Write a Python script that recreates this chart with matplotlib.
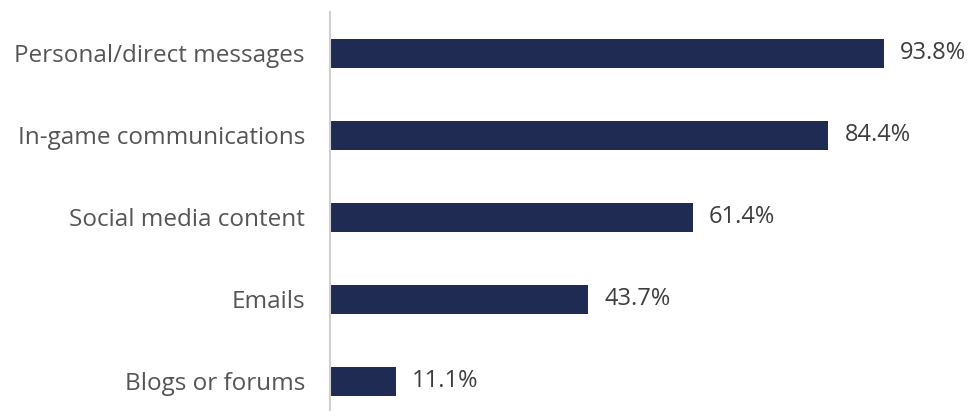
import matplotlib
matplotlib.use("Agg")
import matplotlib.pyplot as plt

# data
categories = ["Personal/direct messages", "In-game communications",
              "Social media content", "Emails", "Blogs or forums"]
values = [93.8, 84.4, 61.4, 43.7, 11.1]

plt.rcParams['font.family'] = ['Open Sans', 'DejaVu Sans']

fig = plt.figure(figsize=(9.73, 4.19), dpi=100)
ax = fig.add_axes([330 / 973, 9 / 419, 643 / 973, 398 / 419])

ypos = list(range(len(categories)))
bars = ax.barh(ypos, values, height=0.35, color="#1f2b52")

ax.set_xlim(0, 643 / 5.906)
ax.set_ylim(4.35, -0.506)

ax.set_yticks(ypos)
ax.set_yticklabels(categories, fontsize=17.5, color="#555555")
ax.tick_params(axis="y", length=0, pad=18)
ax.set_xticks([])

for s in ["top", "right", "bottom"]:
    ax.spines[s].set_visible(False)
ax.spines["left"].set_color("#d0d0d0")
ax.spines["left"].set_linewidth(1.5)

for b, v in zip(bars, values):
    ax.annotate(f"{v:.1f}%", (b.get_width(), b.get_y() + b.get_height() / 2),
                xytext=(16, 0), textcoords="offset pixels",
                va="center", ha="left", fontsize=17, color="#3d3d3d")

fig.savefig("out.png", dpi=100)
